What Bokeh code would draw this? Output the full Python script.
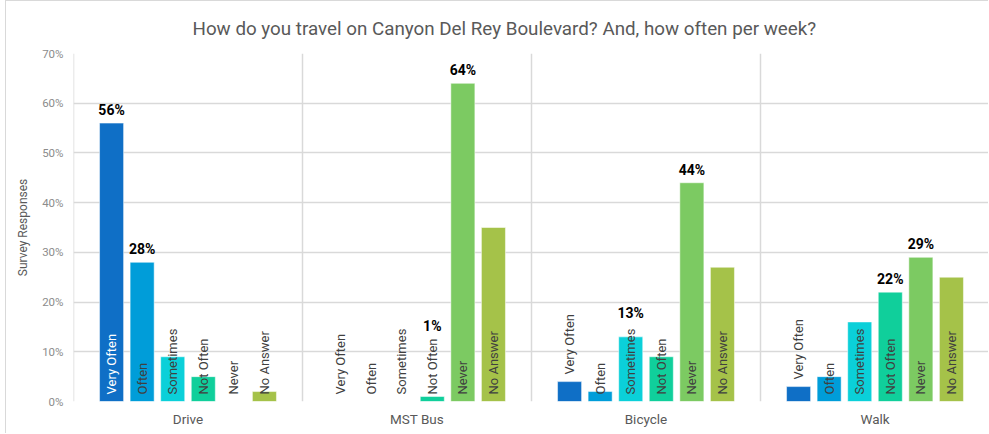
from math import pi
from bokeh.plotting import figure
from bokeh.models import FactorRange, Range1d, ColumnDataSource, Span, PrintfTickFormatter, FixedTicker
from bokeh.transform import dodge
from bokeh.core.properties import value
from bokeh.embed import file_html
from bokeh.resources import INLINE

title = "How do you travel on Canyon Del Rey Boulevard? And, how often per week?"
groups = ["Drive", "MST Bus", "Bicycle", "Walk"]
freqs = ["Very Often", "Often", "Sometimes", "Not Often", "Never", "No Answer"]
very_often = [56, 0, 4, 3]
often = [28, 0, 2, 5]
sometimes = [9, 0, 13, 16]
not_often = [5, 1, 9, 22]
never = [0, 64, 44, 29]
no_answer = [2, 35, 27, 25]
series = [very_often, often, sometimes, not_often, never, no_answer]
labelled = {
    "Drive": ["Very Often", "Often"],
    "MST Bus": ["Not Often", "Never"],
    "Bicycle": ["Sometimes", "Never"],
    "Walk": ["Not Often", "Never"],
}
y_ticks = [0, 10, 20, 30, 40, 50, 60, 70]
colors = ["#0F6FC6", "#009DD9", "#0BD0D9", "#10CF9B", "#7CCA62", "#A5C249"]

FONT = "Roboto"
W, H = 983, 433
B_LEFT, B_TOP, B_BOTTOM = 67, 52, 33
FRAME_H = H - B_TOP - B_BOTTOM
p = figure(
    x_range=FactorRange(*groups, range_padding=0),
    y_range=Range1d(y_ticks[0], y_ticks[-1]),
    width=W, height=H,
    output_backend="svg", toolbar_location=None,
    min_border_left=B_LEFT, min_border_right=0, min_border_top=B_TOP, min_border_bottom=B_BOTTOM,
    title=title,
)
p.styles = {"border-left": "1px solid #d9d9d9", "border-top": "1px solid #d9d9d9",
            "margin-left": "5px", "margin-top": "0px"}
p.outline_line_color = None
p.background_fill_color = "white"
p.border_fill_color = "white"

p.title.align = "left"
p.title.offset = 119
p.title.text_font = FONT
p.title.text_font_size = "18.8px"
p.title.text_font_style = "normal"
p.title.text_color = "#595959"
p.title.standoff = 28

p.yaxis.ticker = FixedTicker(ticks=y_ticks)
p.yaxis.formatter = PrintfTickFormatter(format="%d%%")
p.yaxis.axis_line_color = None
p.yaxis.major_tick_line_color = None
p.yaxis.minor_tick_line_color = None
p.yaxis.major_tick_out = 0
p.yaxis.major_tick_in = 0
p.yaxis.minor_tick_out = 0
p.yaxis.major_label_text_font = FONT
p.yaxis.major_label_text_font_size = "11.5px"
p.yaxis.major_label_text_color = "#8c8c8c"
p.yaxis.major_label_standoff = 10
p.yaxis.axis_label = "Survey Responses"
p.yaxis.axis_label_text_font = FONT
p.yaxis.axis_label_text_font_size = "12px"
p.yaxis.axis_label_text_font_style = "normal"
p.yaxis.axis_label_text_color = "#595959"
p.yaxis.axis_label_standoff = 9

p.xaxis.axis_line_color = None
p.xaxis.major_tick_line_color = None
p.xaxis.minor_tick_line_color = None
p.xaxis.major_tick_out = 0
p.xaxis.major_tick_in = 0
p.xaxis.minor_tick_out = 0
p.xaxis.major_label_text_font = FONT
p.xaxis.major_label_text_font_size = "13.5px"
p.xaxis.major_label_text_color = "#595959"
p.xaxis.major_label_standoff = 9

p.xgrid.grid_line_color = None
p.ygrid.grid_line_color = "#d9d9d9"
p.ygrid.grid_line_width = 1.5

for i in range(len(groups)):
    p.add_layout(Span(location=i, dimension="height", line_color="#d9d9d9", line_width=1.5))

# pixel scale of the value axis (used to keep data labels clear of the rotated names)
px_per_unit = FRAME_H / (y_ticks[-1] - y_ticks[0])
NAME_PX = 13
NAME_BASE = 7


def name_len(s):
    em = 0.0
    for ch in s:
        if ch in "itfl":
            em += 0.3
        elif ch == " ":
            em += 0.25
        elif ch in "mwMW":
            em += 0.85
        elif ch.isupper():
            em += 0.68
        else:
            em += 0.55
    return em * NAME_PX


pitch = 0.1335
bar_w = 0.105
n = len(freqs)
for j, (f, vals) in enumerate(zip(freqs, series)):
    off = (j - (n - 1) / 2) * pitch
    short_first = [f == freqs[0] and 0 < v < 6 for v in vals]
    src = ColumnDataSource(dict(
        g=groups, v=vals,
        ly=[v if s else 0 for v, s in zip(vals, short_first)],
        lc=["white" if (f == freqs[0] and not s and v > 6) else "#404040" for v, s in zip(vals, short_first)],
        name=[f] * len(groups),
    ))
    xx = dodge("g", off, range=p.x_range)
    p.vbar(x=xx, top="v", width=bar_w, source=src, fill_color=colors[j],
           line_color="white", line_alpha=0.5, line_width=1)
    p.text(x=xx, y="ly", text="name", angle=pi / 2, source=src,
           text_align="left", text_baseline="middle", y_offset=-NAME_BASE,
           text_color="lc", text_font=value(FONT), text_font_size=f"{NAME_PX}px")
    sel = [(g, v) for g, v in zip(groups, vals) if f in labelled[g]]
    offs = []
    for g, v in sel:
        name_top = NAME_BASE + name_len(f)
        bar_top = v * px_per_unit
        offs.append(-max(5, name_top + 6 - bar_top))
    dsrc = ColumnDataSource(dict(
        g=[g for g, v in sel], v=[v for g, v in sel],
        t=[f"{v}%" for g, v in sel], yo=offs,
    ))
    p.text(x=dodge("g", off, range=p.x_range), y="v", text="t", source=dsrc,
           text_align="center", text_baseline="bottom", y_offset="yo",
           text_color="black", text_font=value(FONT), text_font_size="14px",
           text_font_style="bold")

open("out.html", "w").write(file_html(p, INLINE))
